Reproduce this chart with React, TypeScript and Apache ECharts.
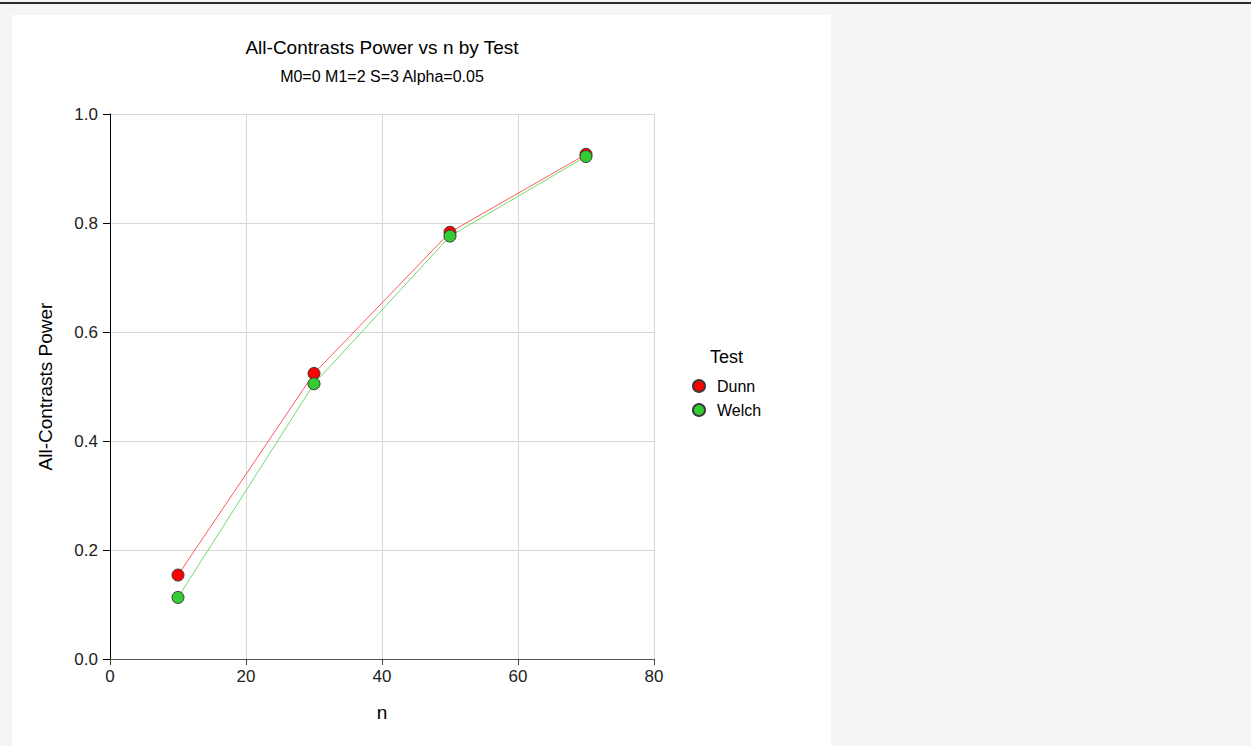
import React, { useEffect, useRef } from "react";
import * as echarts from "echarts";

const nValues = [10, 30, 50, 70];
const dunnPower = [0.154, 0.524, 0.783, 0.926];
const welchPower = [0.113, 0.505, 0.776, 0.922];
const seriesNames = ["Dunn", "Welch"];
const markerColors = ["#ff0000", "#33cc33"];
const lineColors = ["#ff5a5a", "#6ddc6d"];
const xTicks = { min: 0, max: 80, interval: 20 };
const yTicks = { min: 0, max: 1, interval: 0.2 };

const FONT = "'Liberation Sans', Arial, sans-serif";

export default function App() {
  const ref = useRef<HTMLDivElement>(null);
  useEffect(() => {
    if (!ref.current) return;
    const chart = echarts.init(ref.current, undefined, { renderer: "svg" });
    const data = [dunnPower, welchPower];
    chart.setOption({
      animation: false,
      textStyle: { fontFamily: FONT },
      title: [
        {
          text: "All-Contrasts Power vs n by Test",
          left: 382,
          top: 38,
          textAlign: "center",
          padding: 0,
          textStyle: { fontSize: 19, fontWeight: "normal", color: "#000", fontFamily: FONT },
        },
        {
          text: "M0=0 M1=2 S=3 Alpha=0.05",
          left: 382,
          top: 68,
          textAlign: "center",
          padding: 0,
          textStyle: { fontSize: 16, fontWeight: "normal", color: "#000", fontFamily: FONT },
        },
      ],
      grid: { left: 110, right: 597, top: 114, bottom: 87, containLabel: false },
      xAxis: {
        type: "value",
        ...xTicks,
        name: "n",
        nameLocation: "middle",
        nameGap: 44,
        nameTextStyle: { fontSize: 19, color: "#000", fontFamily: FONT },
        axisLine: { onZero: false, lineStyle: { color: "#555", width: 1 } },
        axisTick: { show: true, length: 6, lineStyle: { color: "#444" } },
        axisLabel: { fontSize: 17, color: "#222", margin: 9, fontFamily: FONT },
        splitLine: { show: true, lineStyle: { color: "#d8d8d8", width: 1 } },
      },
      yAxis: {
        type: "value",
        ...yTicks,
        name: "All-Contrasts Power",
        nameLocation: "middle",
        nameGap: 55,
        nameRotate: 90,
        nameTextStyle: { fontSize: 19, color: "#000", fontFamily: FONT },
        axisLine: { show: true, lineStyle: { color: "#000", width: 1 } },
        axisTick: { show: true, length: 7, lineStyle: { color: "#000" } },
        axisLabel: {
          fontSize: 17,
          color: "#222",
          margin: 12,
          fontFamily: FONT,
          formatter: (v: number) => v.toFixed(1),
        },
        splitLine: { show: true, lineStyle: { color: "#d8d8d8", width: 1 } },
      },
      legend: {
        orient: "vertical",
        left: 687,
        top: 373,
        itemWidth: 12,
        itemHeight: 12,
        itemGap: 8,
        icon: "circle",
        textStyle: { fontSize: 16, color: "#000", fontFamily: FONT, padding: [0, 0, 0, 7] },
        data: seriesNames,
      },
      graphic: [
        {
          type: "text",
          left: 710,
          top: 348,
          style: { text: "Test", fontSize: 18, fill: "#000", fontFamily: FONT },
        },
      ],
      series: seriesNames.map((name, i) => ({
        name,
        type: "line",
        data: nValues.map((n, j) => [n, data[i][j]]),
        symbol: "circle",
        symbolSize: 12,
        lineStyle: { color: lineColors[i], width: 1 },
        itemStyle: { color: markerColors[i], borderColor: "#3a3a3a", borderWidth: 1 },
      })),
    });
    return () => chart.dispose();
  }, []);

  return (
    <div style={{ position: "fixed", left: 0, top: 0, width: 1251, height: 746, background: "#f5f5f5" }}>
      <div style={{ position: "absolute", left: 0, top: 2, width: 1251, height: 2, background: "#2a2a2a" }} />
      <div style={{ position: "absolute", left: 12, top: 15, width: 819, height: 731, background: "#ffffff" }} />
      <div ref={ref} style={{ position: "absolute", left: 0, top: 0, width: 1251, height: 746 }} />
    </div>
  );
}
